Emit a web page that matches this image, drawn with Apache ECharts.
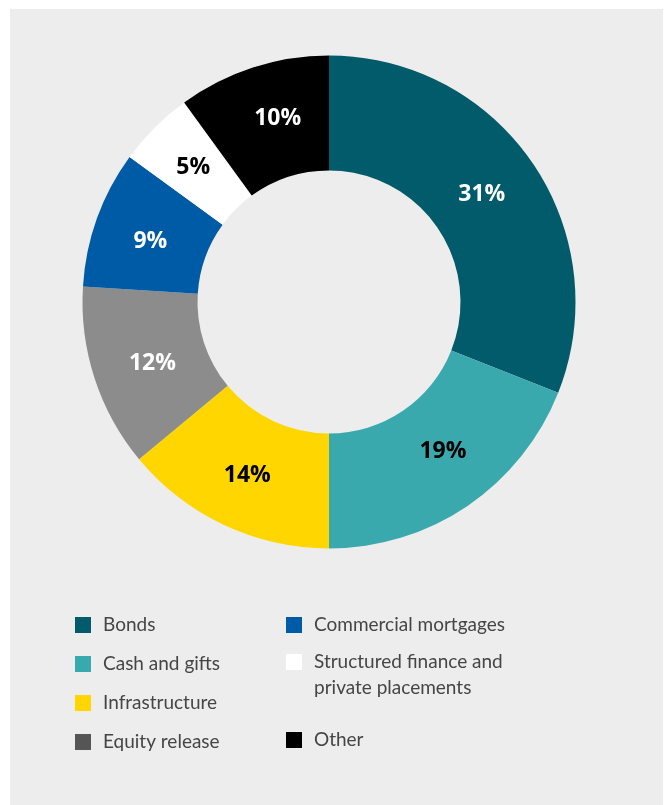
<!DOCTYPE html>
<html>
<head>
<meta charset="utf-8">
<script src="https://cdn.jsdelivr.net/npm/echarts@6/dist/echarts.min.js"></script>
<style>
  html, body { margin: 0; padding: 0; background: #ffffff; }
  #panel { position: absolute; left: 10px; top: 9px; width: 653px; height: 796px; background: #ededed; }
  #chart { width: 653px; height: 796px; }
</style>
</head>
<body>
<div id="panel"><div id="chart"></div></div>
<script>
// Portfolio split by asset class (percent)
const categories = [
  'Bonds',
  'Cash and gifts',
  'Infrastructure',
  'Equity release',
  'Commercial mortgages',
  'Structured finance and private placements',
  'Other'
];
const shares = [31, 19, 14, 12, 9, 5, 10];
const sliceColors = ['#025b6a', '#3aa9ae', '#ffd600', '#8c8c8c', '#005ba6', '#ffffff', '#000000'];
const labelColors = ['#ffffff', '#000000', '#000000', '#ffffff', '#ffffff', '#000000', '#ffffff'];
// the legend swatch for equity release is a darker grey than its slice
const legendColors = ['#025b6a', '#3aa9ae', '#ffd600', '#555555', '#005ba6', '#ffffff', '#000000'];
// small nudges of the percentage labels away from the exact ring centre line
const labelNudges = [[-6, 0], [6, -9], [0, 0], [6, 2], [2, 4], [0, 1], [8, -1]];

const chart = echarts.init(document.getElementById('chart'), null, { renderer: 'canvas' });

const legendText = {
  fontFamily: 'Lato',
  fontWeight: 400,
  fontSize: 19,
  lineHeight: 26,
  color: '#454545',
  padding: [0, 0, 0, 7]
};

const legendBase = {
  orient: 'vertical',
  icon: 'rect',
  itemWidth: 16,
  itemHeight: 16,
  itemGap: 13,
  padding: 0,
  selectedMode: false,
  textStyle: legendText
};

function legendItems(idx) {
  return idx.map(i => ({
    name: categories[i],
    itemStyle: { color: legendColors[i] }
  }));
}

const option = {
  backgroundColor: '#ededed',
  animation: false,
  legend: [
    Object.assign({}, legendBase, {
      left: 65, top: 603,
      data: legendItems([0, 1, 2, 3])
    }),
    Object.assign({}, legendBase, {
      left: 276, top: 603,
      data: legendItems([4])
    }),
    Object.assign({}, legendBase, {
      left: 276, top: 614,
      // leading blank line centres the first text line on the swatch
      formatter: () => '\nStructured finance and\nprivate placements',
      data: legendItems([5])
    }),
    Object.assign({}, legendBase, {
      left: 276, top: 718,
      data: legendItems([6])
    })
  ],
  series: [{
    type: 'pie',
    center: [319, 293],
    radius: [131.5, 246.5],
    startAngle: 90,
    clockwise: true,
    avoidLabelOverlap: false,
    itemStyle: { borderWidth: 0 },
    label: {
      show: true,
      position: 'inside',
      formatter: '{c}%',
      fontFamily: 'Open Sans',
      fontWeight: 700,
      fontSize: 23
    },
    labelLine: { show: false },
    emphasis: { disabled: true },
    data: categories.map((name, i) => ({
      name,
      value: shares[i],
      itemStyle: { color: sliceColors[i] },
      label: { color: labelColors[i], offset: labelNudges[i] }
    }))
  }]
};

chart.setOption(option);
</script>
</body>
</html>
